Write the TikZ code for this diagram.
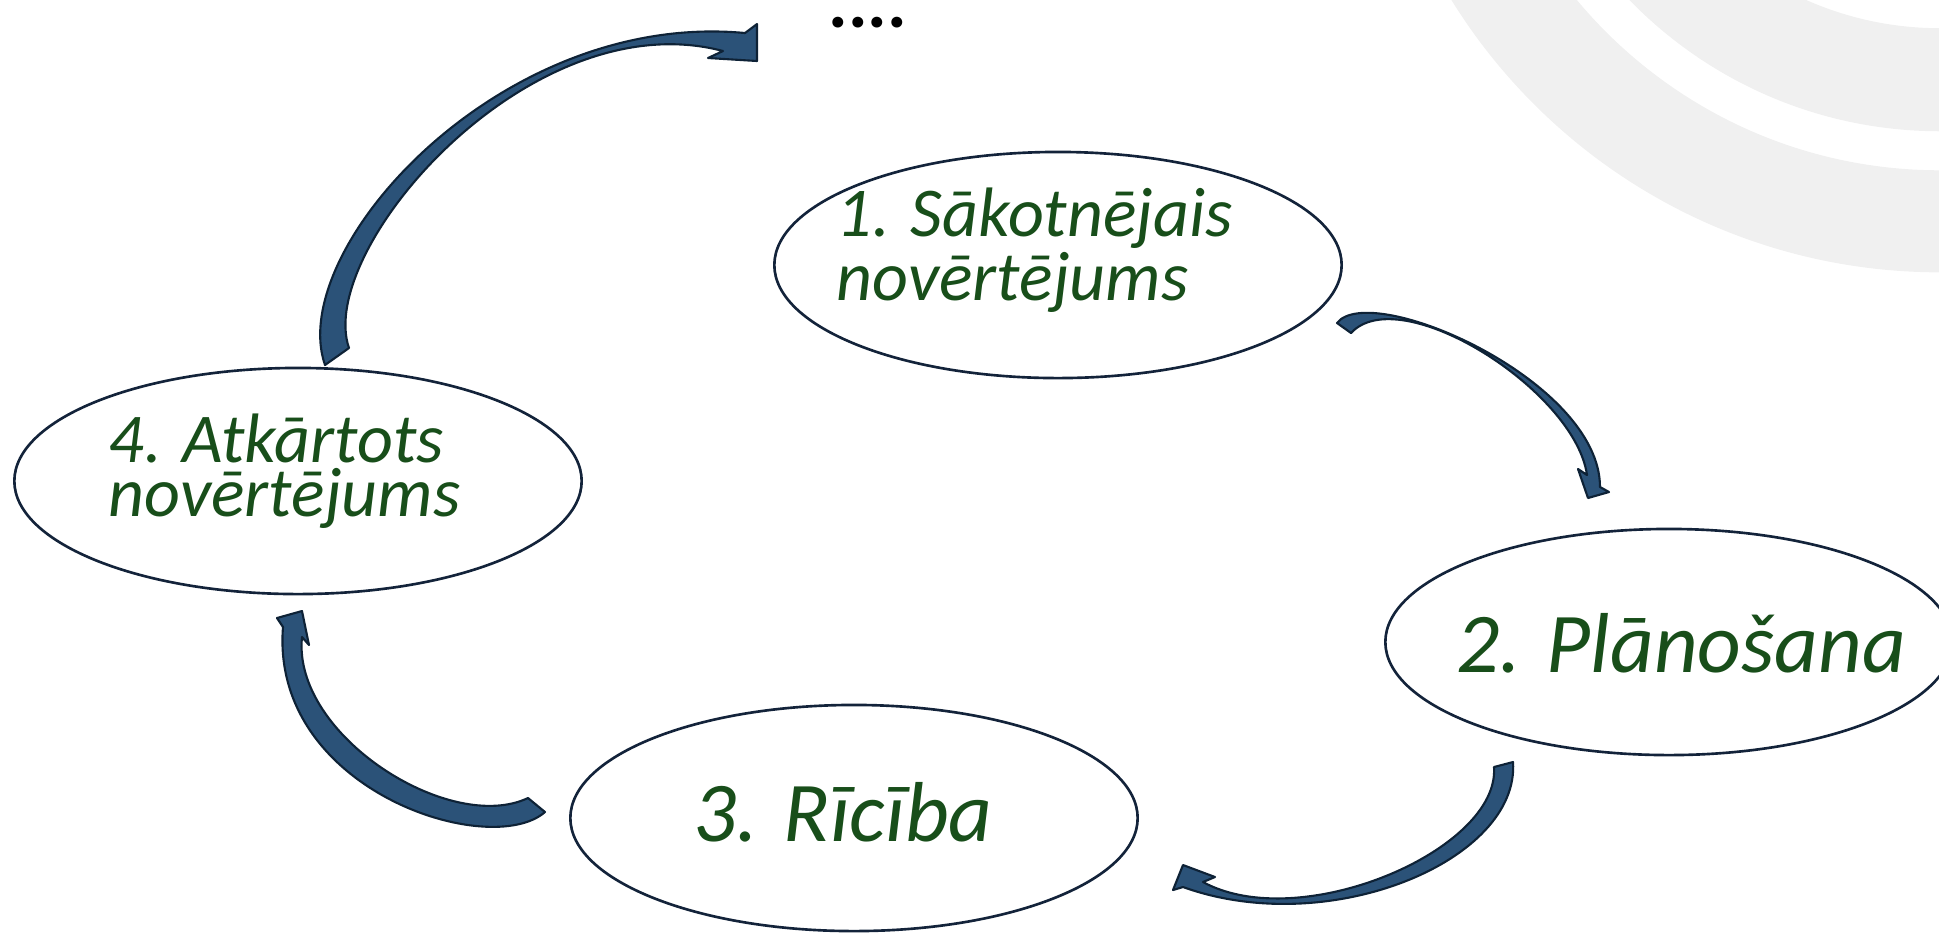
\documentclass[tikz,border=0pt]{standalone}
\usepackage{fontspec}
\setmainfont{Carlito}
\usepackage{xcolor}
\usepackage{tikz}
\usetikzlibrary{positioning,shapes.geometric}

\definecolor{stagegreen}{RGB}{24,78,26}
\definecolor{stageline}{RGB}{19,35,58}
\definecolor{arrowfill}{RGB}{43,82,120}
\definecolor{arrowline}{RGB}{14,34,54}
\definecolor{bgarc}{RGB}{240,240,240}

\begin{document}
\begin{tikzpicture}[x=0.01cm,y=-0.01cm,
  stage/.style={ellipse,draw=stageline,line width=0.75pt,fill=white,minimum width=5.67cm,minimum height=2.26cm,inner sep=0pt},
  smalltxt/.style={text=stagegreen,align=left,inner sep=0pt,font=\itshape\fontsize{19.9pt}{15.1pt}\selectfont},
  bigtxt/.style={text=stagegreen,inner sep=0pt,font=\itshape\fontsize{24.2pt}{29pt}\selectfont},
  blockarrow/.style={fill=arrowfill,draw=arrowline,line width=0.6pt,line join=round}]
  \useasboundingbox (0,0) rectangle (1939,932);
  \begin{scope}
    \clip (0,0) rectangle (1939,932);
    \fill[bgarc,even odd rule] (1940,-302) circle (5.74cm) (1940,-302) circle (4.72cm);
    \fill[bgarc,even odd rule] (1940,-302) circle (4.33cm) (1940,-302) circle (3.30cm);
  \end{scope}

  \node[stage] (e1) at (1058,265) {};
  \node[stage] (e2) at (1669,642) {};
  \node[stage] (e3) at (854,818) {};
  \node[stage] (e4) at (298,481) {};

  \node[smalltxt,anchor=base west] (t1) at (836,300) {1. Sākotnējais\\novērtējums};
  \node[bigtxt,anchor=base west] (t2) at (1456,672) {2. Plānošana};
  \node[bigtxt,anchor=base west] (t3) at (693,841) {3. Rīcība};
  \node[smalltxt,anchor=base west] (t4) at (108,516) {4. Atkārtots\\novērtējums};
  \node[anchor=base west,inner sep=0pt,font=\bfseries\fontsize{20.8pt}{25pt}\selectfont] (dots) at (828,27) {....};

  % 4 -> ....
  \draw[blockarrow] (325,365) .. controls (285,250) and (500,10) .. (745,33)
    -- (757,24) -- (757,61) -- (708,58) -- (723,51)
    .. controls (530,0) and (315,250) .. (349,348) -- cycle;
  % 1 -> 2
  \draw[blockarrow] (1337,323) .. controls (1370,280) and (1600,380) .. (1600,487)
    -- (1609,492) -- (1588,498) -- (1578,469) -- (1587,475)
    .. controls (1575,390) and (1400,280) .. (1351,333) -- cycle;
  % 2 -> 3
  \draw[blockarrow] (1513,762) .. controls (1520,860) and (1330,940) .. (1183,887)
    -- (1173,890) -- (1183,865) -- (1215,877) -- (1203,882)
    .. controls (1300,935) and (1500,850) .. (1494,767) -- cycle;
  % 3 -> 4
  \draw[blockarrow] (545,812) .. controls (490,860) and (270,790) .. (283,627)
    -- (277,618) -- (302,611) -- (309,645) -- (302,637)
    .. controls (292,735) and (450,835) .. (528,798) -- cycle;
\end{tikzpicture}
\end{document}
